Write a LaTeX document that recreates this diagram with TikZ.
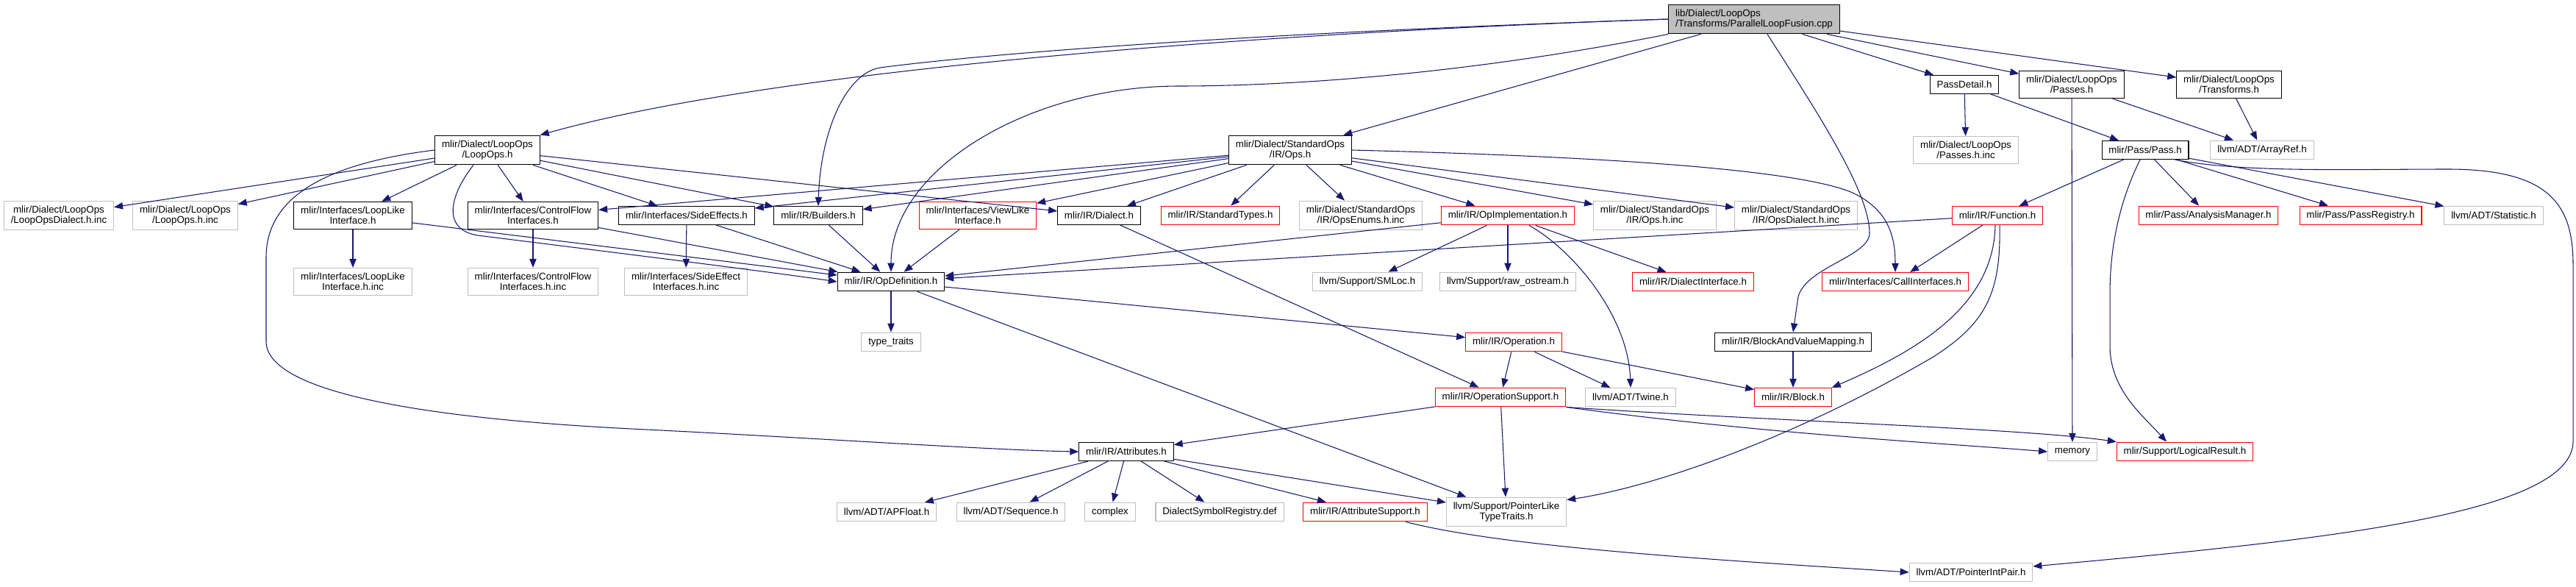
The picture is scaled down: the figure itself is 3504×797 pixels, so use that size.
\documentclass[tikz,border=0pt]{standalone}
\usepackage{fontspec}
\setmainfont{Liberation Sans}
\usetikzlibrary{arrows.meta,calc}

\definecolor{edgeblue}{HTML}{191970}
\definecolor{grey75}{HTML}{BFBFBF}

\begin{document}
\begin{tikzpicture}[x=0.75pt,y=-0.75pt,font=\fontsize{10}{10.5}\selectfont,
  box/.style={rectangle,draw=black,line width=0.8pt,fill=white,inner xsep=7pt,inner ysep=5pt,
              minimum height=18.75pt,align=center},
  hdr/.style={box},
  ext/.style={box,draw=grey75},
  trunc/.style={box,draw=red},
  root/.style={box,fill=grey75,align=left},
  dep/.style={-{Triangle[length=9pt,width=7pt]},edgeblue,line width=0.8pt}]

\useasboundingbox (0,0) rectangle (3504,797);

%% the file itself
\node[root] (main) at (2386,26) {lib/Dialect/LoopOps\\/Transforms/ParallelLoopFusion.cpp};

%% rank 1
\node[hdr] (pd) at (2672,115) {PassDetail.h};
\node[hdr] (ps) at (2818,115) {mlir/Dialect/LoopOps\\/Passes.h};
\node[hdr] (tr) at (3032,115) {mlir/Dialect/LoopOps\\/Transforms.h};

%% rank 2
\node[hdr] (lo)   at (663,204)  {mlir/Dialect/LoopOps\\/LoopOps.h};
\node[hdr] (so)   at (1755,204) {mlir/Dialect/StandardOps\\/IR/Ops.h};
\node[ext] (pinc) at (2674,204) {mlir/Dialect/LoopOps\\/Passes.h.inc};
\node[hdr] (pa)   at (2918,204) {mlir/Pass/Pass.h};
\node[ext] (ar)   at (3077,204) {llvm/ADT/ArrayRef.h};

%% rank 3
\node[ext]   (ldinc) at (80,293)   {mlir/Dialect/LoopOps\\/LoopOpsDialect.h.inc};
\node[ext]   (loinc) at (252,293)  {mlir/Dialect/LoopOps\\/LoopOps.h.inc};
\node[hdr]   (llike) at (480,293)  {mlir/Interfaces/LoopLike\\Interface.h};
\node[hdr]   (cflow) at (725,293)  {mlir/Interfaces/ControlFlow\\Interfaces.h};
\node[hdr]   (side)  at (934,293)  {mlir/Interfaces/SideEffects.h};
\node[hdr]   (bu)    at (1113,293) {mlir/IR/Builders.h};
\node[trunc] (vl)    at (1330,293) {mlir/Interfaces/ViewLike\\Interface.h};
\node[hdr]   (di)    at (1495,293) {mlir/IR/Dialect.h};
\node[trunc] (st)    at (1660,293) {mlir/IR/StandardTypes.h};
\node[ext]   (oe)    at (1851,293) {mlir/Dialect/StandardOps\\/IR/OpsEnums.h.inc};
\node[trunc] (oi)    at (2051,293) {mlir/IR/OpImplementation.h};
\node[ext]   (oinc)  at (2251,293) {mlir/Dialect/StandardOps\\/IR/Ops.h.inc};
\node[ext]   (odinc) at (2443,293) {mlir/Dialect/StandardOps\\/IR/OpsDialect.h.inc};
\node[trunc] (fn)    at (2717,293) {mlir/IR/Function.h};
\node[trunc] (am)    at (3004,293) {mlir/Pass/AnalysisManager.h};
\node[trunc] (pr)    at (3211,293) {mlir/Pass/PassRegistry.h};
\node[ext]   (sta)   at (3392,293) {llvm/ADT/Statistic.h};

%% rank 4
\node[ext]   (llinc) at (480,383)  {mlir/Interfaces/LoopLike\\Interface.h.inc};
\node[ext]   (cfinc) at (725,383)  {mlir/Interfaces/ControlFlow\\Interfaces.h.inc};
\node[ext]   (seinc) at (933,383)  {mlir/Interfaces/SideEffect\\Interfaces.h.inc};
\node[hdr]   (od)    at (1212,383) {mlir/IR/OpDefinition.h};
\node[ext]   (sm)    at (1860,383) {llvm/Support/SMLoc.h};
\node[ext]   (ro)    at (2051,383) {llvm/Support/raw\_ostream.h};
\node[trunc] (dint)  at (2303,383) {mlir/IR/DialectInterface.h};
\node[trunc] (ci)    at (2578,383) {mlir/Interfaces/CallInterfaces.h};

%% rank 5
\node[ext]   (tt)  at (1212,465) {type\_traits};
\node[trunc] (op)  at (2059,465) {mlir/IR/Operation.h};
\node[hdr]   (bvm) at (2439,465) {mlir/IR/BlockAndValueMapping.h};

%% rank 6
\node[trunc] (os) at (2041,540) {mlir/IR/OperationSupport.h};
\node[ext]   (tw) at (2218,540) {llvm/ADT/Twine.h};
\node[trunc] (bl) at (2439,540) {mlir/IR/Block.h};

%% rank 7
\node[hdr]   (at)  at (1532,614) {mlir/IR/Attributes.h};
\node[ext]   (mem) at (2819,614) {memory};
\node[trunc] (lr)  at (2972,614) {mlir/Support/LogicalResult.h};

%% rank 8
\node[ext]   (apf) at (1206,696) {llvm/ADT/APFloat.h};
\node[ext]   (seq) at (1375,696) {llvm/ADT/Sequence.h};
\node[ext]   (cx)  at (1510,696) {complex};
\node[ext]   (dsr) at (1659,696) {DialectSymbolRegistry.def};
\node[trunc] (as)  at (1857,696) {mlir/IR/AttributeSupport.h};
\node[ext]   (plt) at (2049,696) {llvm/Support/PointerLike\\TypeTraits.h};

%% rank 9
\node[ext] (pip) at (2681,778) {llvm/ADT/PointerIntPair.h};

%% straight includes
\foreach \a/\b in {main/so, main/pd, main/ps, main/tr,
                   lo/ldinc, lo/loinc, lo/llike, lo/cflow, lo/side, lo/bu, lo/di,
                   llike/llinc, llike/od, cflow/cfinc, cflow/od, side/seinc, side/od,
                   bu/od, vl/od, di/os,
                   so/cflow, so/side, so/bu, so/vl, so/di, so/st, so/oe, so/oi, so/oinc, so/odinc,
                   oi/od, oi/sm, oi/ro, oi/dint,
                   od/tt, od/op, od/plt, op/os, op/tw, op/bl, os/at, os/plt,
                   at/apf, at/seq, at/cx, at/dsr, at/as, at/plt, bvm/bl,
                   fn/od, fn/ci, pd/pinc, pd/pa, ps/ar, ps/mem, tr/ar,
                   pa/fn, pa/am, pa/pr, pa/sta}
  \draw[dep] (\a) -- (\b);

%% routed includes
\draw[dep] (main.west) .. controls (1700,45) and (1050,95) .. (lo.north east);
\draw[dep] (main.west) .. controls (1700,45) and (1350,72) .. (1197,92)
                       .. controls (1150,100) and (1116,180) .. (bu.north);
\draw[dep] (main.south west) .. controls (1950,110) and (1700,117) .. (1604,117)
                             .. controls (1400,117) and (1212,230) .. (od.north);
\draw[dep] ($(main.south)+(18,0)$) .. controls (2470,150) and (2543,260) .. (2543,317)
                                   .. controls (2543,350) and (2447,365) .. (2445,410) -- (bvm.north);
\draw[dep] (lo.west) .. controls (420,225) and (362,280) .. (362,350) -- (362,464)
                     .. controls (362,540) and (620,572) .. (880,584)
                     .. controls (1100,595) and (1350,612) .. (at.west);
\draw[dep] ($(lo.south)+(-19,0)$) .. controls (612,265) and (600,312) .. (650,320)
                                  .. controls (850,345) and (1050,370) .. (od.west);
\draw[dep] (so.east) .. controls (2150,212) and (2440,228) .. (2520,262)
                     .. controls (2568,285) and (2578,320) .. (ci.north);
\draw[dep] ($(oi.south)+(29,0)$) .. controls (2140,340) and (2215,430) .. (tw.north);
\draw[dep] ($(fn.south)+(-3,0)$) .. controls (2712,420) and (2600,480) .. (bl.north east);
\draw[dep] ($(fn.south)+(3,0)$) .. controls (2722,400) and (2700,440) .. (2630,485)
                                .. controls (2450,590) and (2260,660) .. ($(plt.north east)+(0,4)$);
\draw[dep] ($(pa.south)+(-7,0)$) .. controls (2885,270) and (2870,330) .. (2870,400) -- (2870,470)
                                 .. controls (2870,530) and (2915,565) .. ($(lr.north)+(-25,0)$);
\draw[dep] ($(pa.south east)+(-19,0)$) .. controls (3050,235) and (3200,230) .. (3330,230)
                                       .. controls (3470,230) and (3500,280) .. (3500,360) -- (3500,600)
                                       .. controls (3500,700) and (3150,735) .. ($(pip.east)+(0,-8)$);
\draw[dep] ($(as.south)+(55,0)$) .. controls (2050,745) and (2350,762) .. (pip.west);
\draw[dep] (os.south east) .. controls (2400,590) and (2650,603) .. (mem.west);
\draw[dep] (os.south east) .. controls (2400,572) and (2750,582) .. (lr.north west);
\end{tikzpicture}
\end{document}
